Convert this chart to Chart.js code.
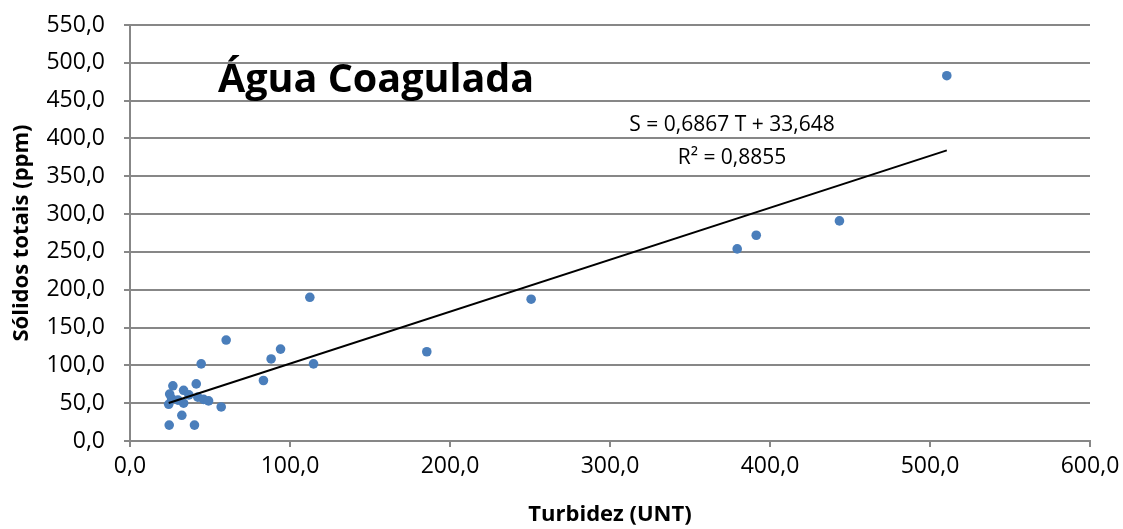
<!DOCTYPE html>
<html>
<head>
<meta charset="utf-8">
<script src="https://cdn.jsdelivr.net/npm/chart.js@4"></script>
<style>
  html, body { margin: 0; padding: 0; background: #fff; }
  #wrap { width: 1123px; height: 529px; position: relative; }
</style>
</head>
<body>
<div id="wrap"><canvas id="chart"></canvas></div>
<script>
// turbidity (UNT) vs total solids (ppm)
const turbidez = [24.5, 40.3, 32.4, 24.2, 26.0, 24.8, 26.8, 33.5, 33.5, 30.0, 36.8, 41.4, 42.4, 46.0, 49.1, 57.0,
  44.5, 60.1, 83.4, 88.2, 94.1, 114.7, 112.4, 185.5, 250.7, 379.5, 391.4, 443.4, 510.5];
const solidos = [21, 21, 34, 48.5, 56, 62, 73, 67, 50, 54, 61, 75.5, 58, 55, 53, 45,
  102, 133.5, 80, 108.5, 121.5, 102, 190, 118, 187.5, 254, 272, 291, 483];

// linear fit shown on the chart
const slope = 0.6867;
const intercept = 33.648;
const trendX = [24.2, 510.5];

const chartTitle = 'Água Coagulada';
const eqLines = ['S = 0,6867 T + 33,648', 'R² = 0,8855'];

const FONT = '"Open Sans", Lato, sans-serif';
const GRID = '#878787';

const fmt = v => v.toFixed(1).replace('.', ',');

const annotations = {
  id: 'annotations',
  afterDatasetsDraw(chart) {
    const { ctx, chartArea: a } = chart;
    ctx.save();
    ctx.fillStyle = '#000';
    ctx.textBaseline = 'alphabetic';
    ctx.font = 'bold 39.5px ' + FONT;
    ctx.textAlign = 'left';
    ctx.fillText(chartTitle, a.left + 88, a.top + 67);
    ctx.font = '21px ' + FONT;
    ctx.textAlign = 'center';
    ctx.fillText(eqLines[0], a.left + 602, a.top + 105.5);
    ctx.fillText(eqLines[1], a.left + 602, a.top + 139);
    ctx.restore();
  }
};

new Chart(document.getElementById('chart'), {
  type: 'scatter',
  data: {
    datasets: [{
      label: 'Sólidos totais',
      data: turbidez.map((t, i) => ({ x: t, y: solidos[i] })),
      backgroundColor: '#4a7ebb',
      borderWidth: 0,
      pointRadius: 4.8,
      order: 2
    }, {
      type: 'line',
      label: 'Linear',
      data: trendX.map(t => ({ x: t, y: slope * t + intercept })),
      borderColor: '#000',
      borderWidth: 2,
      pointRadius: 0,
      fill: false,
      order: 1
    }]
  },
  options: {
    responsive: true,
    maintainAspectRatio: false,
    animation: false,
    layout: { padding: { left: 0, right: 33, top: 25, bottom: 0 } },
    scales: {
      x: {
        type: 'linear',
        min: 0,
        max: 600,
        afterFit: s => { s.height = 88; s.paddingLeft = 0; s.paddingRight = 0; },
        ticks: {
          stepSize: 100,
          color: '#000',
          padding: 6,
          font: { family: FONT, size: 23 },
          callback: v => fmt(v)
        },
        grid: { drawOnChartArea: false, drawTicks: true, tickLength: 6, color: GRID, lineWidth: 2 },
        border: { color: GRID, width: 2 },
        title: {
          display: true,
          text: 'Turbidez (UNT)',
          color: '#000',
          font: { family: FONT, size: 22, weight: 'bold' },
          padding: { top: 10, bottom: 1 }
        }
      },
      y: {
        min: 0,
        max: 550,
        afterFit: s => { s.width = 130; s.paddingTop = 0; s.paddingBottom = 0; },
        ticks: {
          stepSize: 50,
          color: '#000',
          padding: 19,
          font: { family: FONT, size: 23 },
          callback: v => fmt(v)
        },
        grid: { color: GRID, lineWidth: 2, tickLength: 6 },
        border: { color: GRID, width: 2 },
        title: {
          display: true,
          text: 'Sólidos totais (ppm)',
          color: '#000',
          font: { family: FONT, size: 22, weight: 'bold' },
          padding: { top: 9, bottom: 0 }
        }
      }
    },
    plugins: {
      legend: { display: false },
      tooltip: { enabled: false }
    }
  },
  plugins: [annotations]
});
</script>
</body>
</html>
